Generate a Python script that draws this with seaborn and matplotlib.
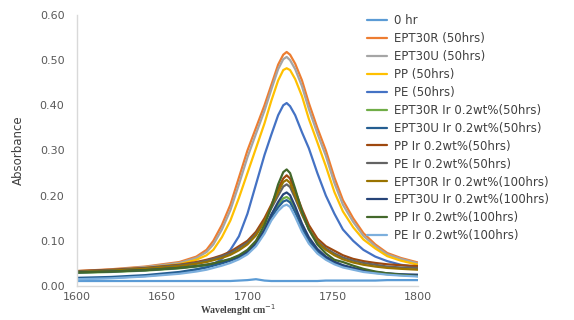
import pandas as pd
import numpy as np
import matplotlib.pyplot as plt
import seaborn as sns

# wavenumber grid (cm-1)
wavenumber = [1600, 1620, 1640, 1660, 1670, 1676, 1680, 1685, 1690, 1695,
              1700, 1705, 1710, 1714, 1718, 1721, 1723, 1725, 1728, 1732,
              1736, 1741, 1746, 1751, 1756, 1762, 1768, 1775, 1782, 1790, 1800]

zero_hr = [.011, .011, .011, .011, .011, .011, .011, .011, .011, .012,
           .013, .015, .012, .011, .011, .011, .011, .011, .011, .011,
           .011, .011, .012, .012, .012, .012, .012, .012, .013, .013, .013]
ept30r_50 = [.033, .037, .043, .053, .065, .080, .100, .135, .180, .240,
             .300, .350, .400, .445, .490, .512, .518, .512, .492, .455,
             .405, .350, .300, .240, .190, .150, .117, .092, .073, .062, .052]
ept30u_50 = [.032, .036, .042, .051, .062, .075, .092, .125, .168, .225,
             .285, .337, .388, .435, .480, .502, .507, .500, .480, .442,
             .392, .338, .288, .228, .180, .142, .111, .088, .070, .060, .050]
pp_50 = [.031, .035, .040, .048, .058, .068, .080, .108, .145, .195,
         .250, .305, .360, .410, .455, .478, .482, .478, .458, .420,
         .370, .318, .265, .208, .165, .130, .103, .083, .066, .056, .047]
pe_50 = [.016, .018, .022, .029, .036, .042, .048, .060, .080, .110,
         .160, .225, .290, .335, .378, .400, .405, .398, .378, .340,
         .305, .250, .200, .160, .125, .100, .080, .065, .055, .047, .041]
ept30r_ir_50 = [.029, .031, .034, .039, .043, .046, .049, .053, .058, .065,
                .076, .094, .125, .158, .180, .194, .197, .192, .170, .132,
                .102, .078, .062, .051, .044, .038, .033, .029, .026, .024, .022]
ept30u_ir_50 = [.018, .020, .024, .031, .037, .041, .045, .050, .056, .063,
                .074, .092, .122, .152, .174, .187, .190, .185, .163, .128,
                .100, .077, .062, .052, .045, .039, .034, .030, .027, .025, .023]
pp_ir_50 = [.033, .036, .040, .047, .053, .058, .062, .068, .076, .088,
            .100, .120, .150, .180, .215, .238, .245, .238, .210, .170,
            .135, .105, .088, .078, .068, .060, .055, .051, .048, .046, .044]
pe_ir_50 = [.032, .035, .039, .046, .051, .056, .060, .066, .073, .084,
            .096, .115, .143, .172, .200, .220, .225, .219, .194, .158,
            .126, .099, .083, .072, .063, .056, .051, .047, .043, .041, .040]
ept30r_ir_100 = [.031, .034, .038, .044, .049, .053, .057, .062, .069, .079,
                 .092, .112, .143, .176, .208, .230, .235, .228, .200, .160,
                 .126, .097, .080, .068, .059, .052, .047, .043, .040, .038, .036]
ept30u_ir_100 = [.030, .032, .035, .040, .044, .047, .050, .054, .059, .066,
                 .077, .095, .125, .158, .186, .203, .207, .201, .176, .138,
                 .108, .082, .065, .054, .046, .040, .035, .031, .028, .026, .025]
pp_ir_100 = [.030, .032, .035, .040, .044, .047, .050, .055, .060, .068,
             .080, .100, .135, .175, .225, .252, .258, .250, .215, .165,
             .125, .092, .072, .058, .053, .045, .038, .032, .028, .025, .022]
pe_ir_100 = [.015, .017, .021, .027, .032, .036, .040, .045, .051, .059,
             .070, .088, .116, .145, .166, .177, .180, .175, .153, .120,
             .094, .072, .058, .048, .041, .036, .031, .028, .025, .023, .021]

labels = ['0 hr', 'EPT30R (50hrs)', 'EPT30U (50hrs)', 'PP (50hrs)', 'PE (50hrs)',
          'EPT30R Ir 0.2wt%(50hrs)', 'EPT30U Ir 0.2wt%(50hrs)',
          'PP Ir 0.2wt%(50hrs)', 'PE Ir 0.2wt%(50hrs)',
          'EPT30R Ir 0.2wt%(100hrs)', 'EPT30U Ir 0.2wt%(100hrs)',
          'PP Ir 0.2wt%(100hrs)', 'PE Ir 0.2wt%(100hrs)']
series = [zero_hr, ept30r_50, ept30u_50, pp_50, pe_50,
          ept30r_ir_50, ept30u_ir_50, pp_ir_50, pe_ir_50,
          ept30r_ir_100, ept30u_ir_100, pp_ir_100, pe_ir_100]
colors = ['#5B9BD5', '#ED7D31', '#A5A5A5', '#FFC000', '#4472C4',
          '#70AD47', '#255E91', '#9E480E', '#636363',
          '#997300', '#264478', '#43682B', '#7CAFDD']

# long format for seaborn
df = pd.concat([pd.DataFrame({'wavenumber': wavenumber, 'absorbance': vals, 'sample': lab})
                for lab, vals in zip(labels, series)], ignore_index=True)

sns.set_theme(style='white')
plt.rcParams['font.family'] = ['DejaVu Sans']

fig = plt.figure(figsize=(5.74, 3.2), dpi=100)
ax = fig.add_axes([0.1341, 0.1063, 0.594, 0.847])

sns.lineplot(data=df, x='wavenumber', y='absorbance', hue='sample',
             hue_order=labels, palette=dict(zip(labels, colors)),
             linewidth=1.6, ax=ax, legend=True)

ax.set_xlim(1600, 1800)
ax.set_ylim(0, 0.6)
ax.set_xticks([1600, 1650, 1700, 1750, 1800])
ax.set_yticks(np.arange(0, 0.61, 0.1))
ax.set_yticklabels(['%.2f' % v for v in np.arange(0, 0.61, 0.1)])
ax.tick_params(axis='both', length=0, labelsize=8, labelcolor='#595959')
ax.tick_params(axis='x', pad=4)
ax.tick_params(axis='y', pad=9)
for side in ['top', 'right']:
    ax.spines[side].set_visible(False)
for side in ['left', 'bottom']:
    ax.spines[side].set_color('#D9D9D9')
    ax.spines[side].set_linewidth(1)

ax.set_xlabel('')
ax.set_ylabel('Absorbance', fontsize=8.5, color='#404040', labelpad=11)
fig.text(238 / 574, 1 - 310 / 320, 'Wavelenght cm$^{-1}$', ha='center', va='center',
         fontsize=7, family='Liberation Serif', fontweight='bold', color='#404040')

handles, lbls = ax.get_legend_handles_labels()
ax.legend(handles, lbls, loc='upper left', bbox_to_anchor=(361 / 574, 1 - 8 / 320),
          bbox_transform=fig.transFigure, frameon=False, fontsize=8.5,
          labelspacing=0.42, handlelength=1.7, handletextpad=0.6,
          borderpad=0, labelcolor='#404040')

fig.savefig('out.png', dpi=100)
